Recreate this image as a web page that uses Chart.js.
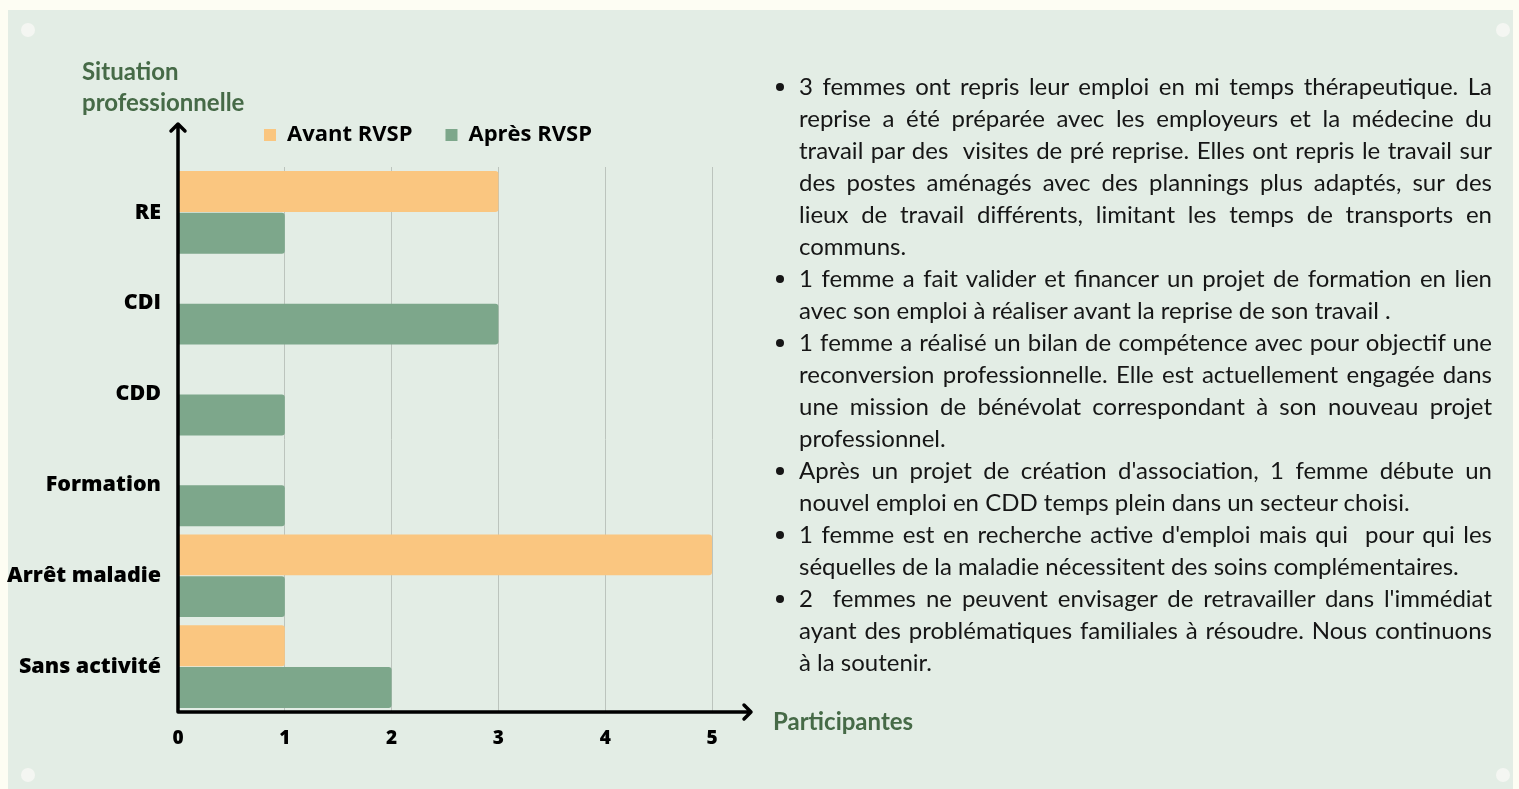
<!DOCTYPE html>
<html lang="fr">
<head>
<meta charset="utf-8">
<title>Situation professionnelle</title>
<script src="https://cdn.jsdelivr.net/npm/chart.js@4.4.1/dist/chart.umd.min.js"></script>
<style>
  html, body { margin: 0; padding: 0; }
  body { width: 1519px; height: 789px; background: #fdfdf3; position: relative; overflow: hidden; }
  .panel { position: absolute; left: 8px; top: 10px; width: 1505px; height: 790px; background: #e3ede5; }
  .dot { position: absolute; width: 14px; height: 14px; border-radius: 50%; background: #f4f6f2; }
  .chart-box { position: absolute; left: 0; top: 10px; width: 930px; height: 779px; }
  .notes {
    position: absolute; left: 772px; top: 70px; width: 720px; margin: 0; padding: 0 0 0 27px;
    box-sizing: border-box; font: 24px Lato, sans-serif; line-height: 32px; color: #161616;
    text-align: justify;
  }
</style>
</head>
<body>
<div class="panel"></div>
<div class="dot" style="left:21px;top:23px"></div>
<div class="dot" style="left:1496px;top:23px"></div>
<div class="dot" style="left:21px;top:768px"></div>
<div class="dot" style="left:1496px;top:768px"></div>

<div class="chart-box"><canvas id="situationChart"></canvas></div>

<ul class="notes">
  <li>3 femmes ont repris leur emploi en mi temps thérapeutique. La reprise a été préparée avec les employeurs et la médecine du travail par des&nbsp; visites de pré reprise. Elles ont repris le travail sur des postes aménagés avec des plannings plus adaptés, sur des lieux de travail différents, limitant les temps de transports en communs.</li>
  <li>1 femme a fait valider et financer un projet de formation en lien avec son emploi à réaliser avant la reprise de son travail .</li>
  <li>1 femme a réalisé un bilan de compétence avec pour objectif une reconversion professionnelle. Elle est actuellement engagée dans une mission de bénévolat correspondant à son nouveau projet professionnel.</li>
  <li>Après un projet de création d'association, 1 femme débute un nouvel emploi en CDD temps plein dans un secteur choisi.</li>
  <li>1 femme est en recherche active d'emploi mais qui&nbsp; pour qui les séquelles de la maladie nécessitent des soins complémentaires.</li>
  <li>2&nbsp; femmes ne peuvent envisager de retravailler dans l'immédiat ayant des problématiques familiales à résoudre. Nous continuons à la soutenir.</li>
</ul>

<script>
// === Data ===
const categories = ['RE', 'CDI', 'CDD', 'Formation', 'Arrêt maladie', 'Sans activité'];
const avantRVSP = [3, 0, 0, 0, 5, 1];
const apresRVSP = [1, 3, 1, 1, 1, 2];
const xTicks = [0, 1, 2, 3, 4, 5];

const orange = '#fac680';
const green = '#7da78b';
const titleGreen = '#466a47';

const LEGEND_FONT = 22;
const LEGEND_GAP = 33;

// arrows for the axes + axis titles placed like the original
const axisArrows = {
  id: 'axisArrows',
  afterLayout(chart) {
    // legend sits just above the plot, a bit left of center
    const lg = chart.legend;
    const a = chart.chartArea;
    const h = lg.bottom - lg.top;
    lg.top = a.top - 32 - LEGEND_GAP - LEGEND_FONT / 2;
    lg.bottom = lg.top + h;
    lg.left -= 17; lg.right -= 17;
  },
  afterDatasetsDraw(chart) {
    const { ctx, chartArea: a } = chart;
    ctx.save();
    ctx.strokeStyle = '#000';
    ctx.lineWidth = 3.5;
    ctx.lineCap = 'round';
    ctx.lineJoin = 'round';
    ctx.beginPath();
    // y axis
    ctx.moveTo(a.left, a.bottom);
    ctx.lineTo(a.left, a.top - 43);
    ctx.moveTo(a.left - 7, a.top - 36);
    ctx.lineTo(a.left, a.top - 43);
    ctx.lineTo(a.left + 7, a.top - 36);
    // x axis
    ctx.moveTo(a.left, a.bottom);
    ctx.lineTo(a.right + 39, a.bottom);
    ctx.moveTo(a.right + 32, a.bottom - 7);
    ctx.lineTo(a.right + 39, a.bottom);
    ctx.lineTo(a.right + 32, a.bottom + 7);
    ctx.stroke();

    // axis titles
    ctx.fillStyle = titleGreen;
    ctx.font = 'bold 24px Lato';
    ctx.textAlign = 'left';
    ctx.textBaseline = 'middle';
    ctx.fillText('Situation', a.left - 96, a.top - 95);
    ctx.fillText('professionnelle', a.left - 96, a.top - 64);
    ctx.fillText('Participantes', a.right + 61, a.bottom + 10);
    ctx.restore();
  }
};

const ctx = document.getElementById('situationChart').getContext('2d');

const chart = new Chart(ctx, {
  type: 'bar',
  data: {
    labels: categories,
    datasets: [
      { label: 'Avant RVSP', data: avantRVSP, backgroundColor: orange, borderRadius: 3, borderSkipped: 'start' },
      { label: 'Après RVSP', data: apresRVSP, backgroundColor: green, borderRadius: 3, borderSkipped: 'start' }
    ]
  },
  options: {
    indexAxis: 'y',
    responsive: true,
    maintainAspectRatio: false,
    animation: false,
    datasets: { bar: { categoryPercentage: 0.92, barPercentage: 0.98 } },
    layout: { padding: { top: 92, right: 218, left: 0, bottom: 0 } },
    plugins: {
      tooltip: { enabled: false },
      legend: {
        position: 'top',
        fullSize: false,
        labels: {
          boxWidth: 12,
          boxHeight: 12,
          color: '#000',
          padding: LEGEND_GAP,
          font: { family: 'Open Sans', size: LEGEND_FONT, weight: 'bold' }
        }
      }
    },
    scales: {
      x: {
        min: 0,
        max: 5,
        afterBuildTicks: (scale) => { scale.ticks = xTicks.map(v => ({ value: v })); },
        afterFit: (scale) => { scale.height = 77; },
        grid: {
          drawTicks: false,
          color: (c) => c.tick && c.tick.value === 0 ? 'rgba(0,0,0,0)' : '#bcc4bd',
          lineWidth: 1
        },
        border: { display: false },
        ticks: {
          padding: 15,
          color: '#000',
          font: { family: 'Open Sans', size: 19, weight: 800 }
        }
      },
      y: {
        afterFit: (scale) => { scale.width = 178; },
        grid: { display: false, drawTicks: false },
        border: { display: false },
        ticks: {
          padding: 17,
          color: '#000',
          font: { family: 'Open Sans', size: 21.5, weight: 800 }
        }
      }
    }
  },
  plugins: [axisArrows]
});
</script>
</body>
</html>
